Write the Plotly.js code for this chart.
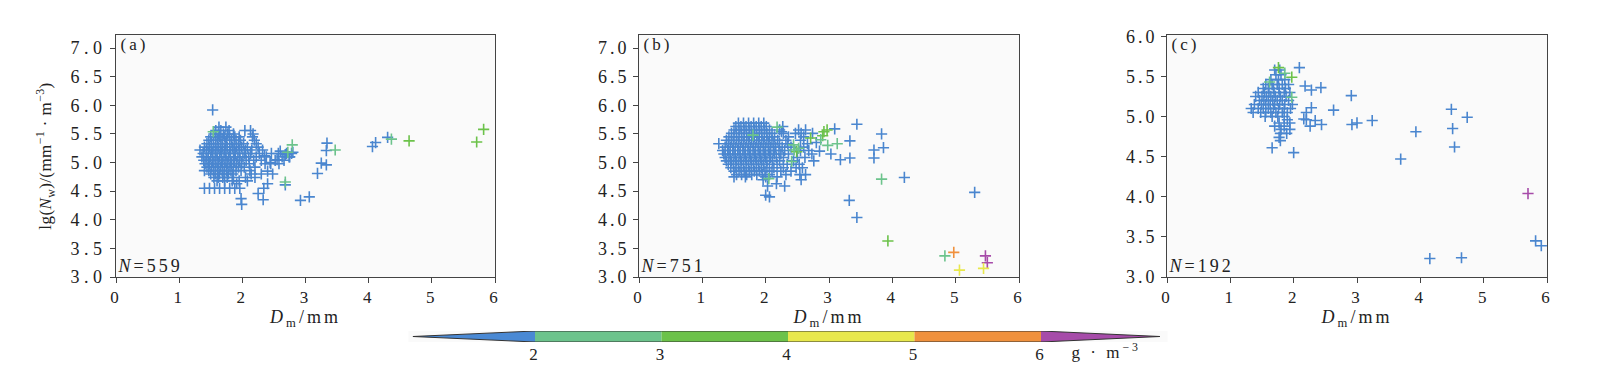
<!DOCTYPE html>
<html><head><meta charset="utf-8">
<script src="https://cdn.plot.ly/plotly-3.0.1.min.js"></script>
<style>
html,body{margin:0;padding:0;background:#fff;}
#chart{width:1600px;height:371px;}
#chart svg text{letter-spacing:3px !important;}
#chart svg .ytick text{letter-spacing:4.5px !important;}
#chart svg .g-ytitle text{letter-spacing:0.4px !important;}
</style></head><body><div id="chart"></div>
<script>
// ---------- Panel (a): LWC < 2 g/m3 (blue) ----------
const aBlueX = [1.63,1.74, 1.58,1.66,1.79,2.04,2.13, 1.55,1.62,1.70,1.77,1.86,2.17,
 1.50,1.58,1.64,1.72,1.80,1.88,1.95,2.16, 1.47,1.54,1.61,1.68,1.75,1.83,1.90,1.97,2.19,
 1.44,1.51,1.58,1.66,1.73,1.80,1.87,1.94,2.02,2.22, 1.40,1.48,1.55,1.62,1.69,1.76,1.84,1.91,1.99,2.08,2.25,
 1.33,1.43,1.51,1.58,1.65,1.72,1.80,1.87,1.95,2.05,2.15,2.32,
 1.38,1.46,1.53,1.60,1.67,1.74,1.81,1.89,1.96,2.04,2.13,2.27,2.46,2.57,2.70,2.78,
 1.36,1.43,1.50,1.57,1.64,1.71,1.78,1.86,1.93,2.01,2.10,2.22,2.38,2.63,2.74,
 1.39,1.46,1.53,1.60,1.67,1.74,1.81,1.88,1.96,2.06,2.18,2.30,2.52,2.66,
 1.41,1.48,1.55,1.62,1.69,1.76,1.83,1.91,1.99,2.11,2.36,2.45,
 1.44,1.51,1.58,1.65,1.72,1.79,1.86,1.94,2.03,2.20, 1.40,1.47,1.54,1.61,1.68,1.75,1.82,1.90,1.98,2.12,
 1.50,1.57,1.64,1.71,1.78,1.85,2.14,2.30, 1.55,1.62,1.69,1.76,1.86,2.05,2.20, 1.60,1.72,1.84,1.95,2.08,
 1.91,2.40, 1.40,1.48,1.56,1.64,1.72,1.80,1.88,1.96,2.34, 2.25, 1.98,2.33, 1.99,
 1.53,2.68,2.92,3.06,3.19,3.25,3.33,3.34,3.33,4.06,4.11,4.30,2.80,2.75,2.55,2.40,2.48,2.60,2.68,2.35,2.44,2.58];
const aBlueY = [5.62,5.62, 5.56,5.56,5.56,5.56,5.56, 5.50,5.50,5.50,5.50,5.50,5.50,
 5.45,5.45,5.45,5.45,5.45,5.45,5.45,5.45, 5.39,5.39,5.39,5.39,5.39,5.39,5.39,5.39,5.39,
 5.33,5.33,5.33,5.33,5.33,5.33,5.33,5.33,5.33,5.33, 5.27,5.27,5.27,5.27,5.27,5.27,5.27,5.27,5.27,5.27,5.27,
 5.22,5.22,5.22,5.22,5.22,5.22,5.22,5.22,5.22,5.22,5.22,5.22,
 5.16,5.16,5.16,5.16,5.16,5.16,5.16,5.16,5.16,5.16,5.16,5.16,5.16,5.16,5.16,5.16,
 5.10,5.10,5.10,5.10,5.10,5.10,5.10,5.10,5.10,5.10,5.10,5.10,5.10,5.10,5.10,
 5.04,5.04,5.04,5.04,5.04,5.04,5.04,5.04,5.04,5.04,5.04,5.04,5.04,5.04,
 4.98,4.98,4.98,4.98,4.98,4.98,4.98,4.98,4.98,4.98,4.98,4.98,
 4.92,4.92,4.92,4.92,4.92,4.92,4.92,4.92,4.92,4.92, 4.86,4.86,4.86,4.86,4.86,4.86,4.86,4.86,4.86,4.86,
 4.80,4.80,4.80,4.80,4.80,4.80,4.80,4.80, 4.74,4.74,4.74,4.74,4.74,4.74,4.74, 4.68,4.68,4.68,4.68,4.68,
 4.63,4.63, 4.55,4.55,4.55,4.55,4.55,4.55,4.55,4.55,4.55, 4.46, 4.37,4.35, 4.27,
 5.92,4.61,4.34,4.40,4.81,4.99,4.96,5.34,5.21,5.28,5.35,5.44,5.18,5.10,5.05,4.85,4.80,5.20,5.14,5.12,5.00,4.98];
// Panel (a): LWC >= 2 g/m3
const aHiX = [2.79,2.68,3.47,4.36,4.64,5.71,5.82,1.54,2.72];
const aHiY = [5.31,4.66,5.22,5.41,5.38,5.36,5.58,5.54,5.18];
const aHiW = [2.5,2.6,2.5,2.6,3.4,3.3,3.5,2.4,2.3];

// ---------- Panel (b) ----------
const bBlueX = [1.57,1.65,1.73,1.81,1.89,1.97,
 1.53,1.61,1.69,1.77,1.85,1.93,2.01,2.27,
 1.50,1.58,1.66,1.74,1.82,1.90,1.98,2.06,2.22,2.52,2.63,
 1.46,1.54,1.62,1.70,1.78,1.86,1.94,2.02,2.10,2.28,2.47,2.56,2.74,
 1.42,1.50,1.58,1.66,1.74,1.82,1.90,1.98,2.06,2.14,2.36,2.60,
 1.38,1.46,1.54,1.62,1.70,1.78,1.86,1.94,2.02,2.10,2.19,2.32,2.55,
 1.26,1.41,1.49,1.57,1.65,1.73,1.81,1.89,1.97,2.05,2.13,2.22,2.35,2.66,
 1.36,1.44,1.52,1.60,1.68,1.76,1.84,1.92,2.00,2.08,2.16,2.26,2.40,2.60,
 1.32,1.40,1.48,1.56,1.64,1.72,1.80,1.88,1.96,2.04,2.12,2.21,2.30,2.55,2.68,
 1.34,1.42,1.50,1.58,1.66,1.74,1.82,1.90,1.98,2.06,2.14,2.24,2.36,2.73,
 1.36,1.44,1.52,1.60,1.68,1.76,1.84,1.92,2.00,2.08,2.17,2.28,2.50,2.62,
 1.38,1.46,1.54,1.62,1.70,1.78,1.86,1.94,2.02,2.11,2.22,2.44,2.76,
 1.41,1.49,1.57,1.65,1.73,1.81,1.89,1.97,2.06,2.18,2.34,2.53,
 1.45,1.53,1.61,1.69,1.77,1.85,1.93,2.02,2.13,2.28,2.48,2.58,
 1.50,1.58,1.66,1.74,1.82,1.90,1.99,2.10,2.24,2.40,
 1.54,1.62,1.70,1.78,1.86,1.95,2.06,2.32,2.54,2.63,
 1.50,1.68,2.00,2.18, 1.96,2.56, 2.17, 2.03,2.30, 2.00, 2.06,
 3.44,3.09,3.83,3.33,3.71,3.86,3.03,3.18,3.33,3.71,4.19,5.30,3.32,3.44,2.80,2.85,2.25];
const bBlueY = [5.69,5.69,5.69,5.69,5.69,5.69,
 5.63,5.63,5.63,5.63,5.63,5.63,5.63,5.63,
 5.57,5.57,5.57,5.57,5.57,5.57,5.57,5.57,5.57,5.57,5.57,
 5.51,5.51,5.51,5.51,5.51,5.51,5.51,5.51,5.51,5.51,5.51,5.51,5.51,
 5.45,5.45,5.45,5.45,5.45,5.45,5.45,5.45,5.45,5.45,5.45,5.45,
 5.39,5.39,5.39,5.39,5.39,5.39,5.39,5.39,5.39,5.39,5.39,5.39,5.39,
 5.33,5.33,5.33,5.33,5.33,5.33,5.33,5.33,5.33,5.33,5.33,5.33,5.33,5.33,
 5.27,5.27,5.27,5.27,5.27,5.27,5.27,5.27,5.27,5.27,5.27,5.27,5.27,5.27,
 5.21,5.21,5.21,5.21,5.21,5.21,5.21,5.21,5.21,5.21,5.21,5.21,5.21,5.21,5.21,
 5.15,5.15,5.15,5.15,5.15,5.15,5.15,5.15,5.15,5.15,5.15,5.15,5.15,5.15,
 5.09,5.09,5.09,5.09,5.09,5.09,5.09,5.09,5.09,5.09,5.09,5.09,5.09,5.09,
 5.03,5.03,5.03,5.03,5.03,5.03,5.03,5.03,5.03,5.03,5.03,5.03,5.03,
 4.97,4.97,4.97,4.97,4.97,4.97,4.97,4.97,4.97,4.97,4.97,4.97,
 4.91,4.91,4.91,4.91,4.91,4.91,4.91,4.91,4.91,4.91,4.91,4.91,
 4.85,4.85,4.85,4.85,4.85,4.85,4.85,4.85,4.85,4.85,
 4.79,4.79,4.79,4.79,4.79,4.79,4.79,4.79,4.79,4.79,
 4.75,4.75,4.75,4.75, 4.70,4.70, 4.63, 4.59,4.59, 4.43, 4.40,
 5.67,5.59,5.50,5.38,5.22,5.26,5.15,5.05,5.08,5.08,4.74,4.48,4.34,4.04,5.35,5.20,5.54];
const bHiX = [2.18,2.92,2.97,2.90,2.87,2.71,2.98,3.13,2.44,2.49,2.45,2.52,2.41,3.83,3.93,4.83,4.97,5.47,5.50,5.06,5.44,1.80,2.05];
const bHiY = [5.62,5.54,5.57,5.47,5.40,5.43,5.30,5.33,5.31,5.19,5.22,5.25,5.02,4.71,3.63,3.37,3.43,3.37,3.25,3.12,3.15,5.48,4.72];
const bHiW = [2.6,3.4,3.5,3.3,2.8,3.4,2.6,2.7,2.6,3.2,2.5,2.7,2.6,2.7,3.2,2.6,5.4,6.3,6.4,4.6,4.5,2.4,2.5];

// ---------- Panel (c) ----------
const cBlueX = [1.70,1.78,2.09, 1.72,1.80, 1.64,1.76,1.86,
 1.56,1.66,1.74,1.82,1.92,2.18, 1.52,1.60,1.68,1.77,1.87,2.28,2.43,
 1.44,1.54,1.61,1.69,1.77,1.85,1.94, 1.40,1.50,1.57,1.64,1.71,1.79,1.88,
 1.46,1.53,1.60,1.67,1.74,1.82,1.92, 1.38,1.49,1.56,1.63,1.70,1.78,1.86,1.98,
 1.33,1.44,1.52,1.60,1.68,1.76,1.85,1.95,2.28,2.63, 1.36,1.48,1.56,1.64,1.72,1.82,1.90,2.20,
 1.55,1.66,1.75,1.85,2.16, 1.90,2.20,2.34, 1.77,1.94,3.00, 1.70,1.85,2.26,2.44,2.92,
 1.80,1.94, 1.79,1.89, 1.77, 1.79, 1.66, 2.00,
 2.91,3.24,3.93,3.69,4.49,4.74,4.51,4.54,5.82,5.91,4.15,4.65];
const cBlueY = [5.58,5.58,5.61, 5.52,5.52, 5.46,5.46,5.46,
 5.40,5.40,5.40,5.40,5.40,5.38, 5.35,5.35,5.35,5.35,5.35,5.33,5.36,
 5.30,5.30,5.30,5.30,5.30,5.30,5.30, 5.25,5.25,5.25,5.25,5.25,5.25,5.25,
 5.20,5.20,5.20,5.20,5.20,5.20,5.20, 5.15,5.15,5.15,5.15,5.15,5.15,5.15,5.15,
 5.10,5.10,5.10,5.10,5.10,5.10,5.10,5.10,5.11,5.08, 5.05,5.05,5.05,5.05,5.05,5.05,5.05,5.05,
 5.00,5.00,5.00,5.00,4.97, 4.96,4.96,4.95, 4.92,4.92,4.92, 4.88,4.88,4.88,4.90,4.90,
 4.84,4.84, 4.79,4.79, 4.74, 4.70, 4.61, 4.55,
 5.26,4.95,4.81,4.47,5.09,4.99,4.85,4.62,3.45,3.39,3.23,3.24];
const cHiX = [1.76,1.86,1.97,1.97,1.62,5.70];
const cHiY = [5.61,5.54,5.49,5.24,5.43,4.04];
const cHiW = [3.4,2.6,3.3,2.6,2.5,6.5];

// ---------- colour bar (LWC, g·m^-3) ----------
const cbBounds = [2,3,4,5,6];
const cbColors = ['#4a89d4','#6cc38c','#6cc24a','#e8e84c','#f0913d','#a64ba9'];
const cbTicks = [2,3,4,5,6];
const panelLabels = ['(a)','(b)','(c)'];
const panelN = [559,751,192];

const blue = '#4a86cf';
const stepScale = [];
cbColors.forEach((c,i)=>{ stepScale.push([i/6,c]); stepScale.push([(i+1)/6,c]); });

function blueTrace(x,y,xa,ya){
  return {type:'scatter',mode:'markers',x:x,y:y,xaxis:xa,yaxis:ya,hoverinfo:'x+y',
    marker:{symbol:'cross-thin',size:8,line:{width:1.6,color:blue},color:blue}};
}
function hiTrace(x,y,w,xa,ya){
  return {type:'scatter',mode:'markers',x:x,y:y,xaxis:xa,yaxis:ya,hoverinfo:'x+y',
    marker:{symbol:'cross-thin',size:8,color:w,cmin:1,cmax:7,colorscale:stepScale,showscale:false,
      line:{width:1.6,color:w,cmin:1,cmax:7,colorscale:stepScale}}};
}

const traces = [
  blueTrace(aBlueX,aBlueY,'x','y'), hiTrace(aHiX,aHiY,aHiW,'x','y'),
  blueTrace(bBlueX,bBlueY,'x2','y2'), hiTrace(bHiX,bHiY,bHiW,'x2','y2'),
  blueTrace(cBlueX,cBlueY,'x3','y3'), hiTrace(cHiX,cHiY,cHiW,'x3','y3')
];
// colour bar segments
for(let i=0;i<cbBounds.length-1;i++){
  const lo=cbBounds[i], hi=cbBounds[i+1];
  traces.push({type:'scatter',mode:'lines',x:[lo,hi,hi,lo,lo],y:[0,0,1,1,0],xaxis:'x4',yaxis:'y4',
    fill:'toself',fillcolor:cbColors[i+1],line:{width:0},hoverinfo:'skip'});
}
const lo0=cbBounds[0], hiN=cbBounds[cbBounds.length-1];
traces.push({type:'scatter',mode:'lines',x:[lo0,1.035,lo0,lo0],y:[0,0.5,1,0],xaxis:'x4',yaxis:'y4',
  fill:'toself',fillcolor:cbColors[0],line:{width:0},hoverinfo:'skip'});
traces.push({type:'scatter',mode:'lines',x:[hiN,6.94,hiN,hiN],y:[0,0.5,1,0],xaxis:'x4',yaxis:'y4',
  fill:'toself',fillcolor:cbColors[5],line:{width:0},hoverinfo:'skip'});
traces.push({type:'scatter',mode:'lines',x:[lo0,1.035,lo0,hiN,6.94,hiN,lo0],y:[0,0.5,1,1,0.5,0,0],xaxis:'x4',yaxis:'y4',
  line:{width:1,color:'#333'},hoverinfo:'skip'});

const W=1600,H=371;
const yTop=35, yBot=277;
const dy=[1-yBot/H, 1-yTop/H];
const xDom=[[116,495],[639,1019],[1167,1547]];
const FAM='Liberation Serif';
const font={family:FAM,size:17,color:'#222'};
function ax(extra){
  return Object.assign({showline:true,mirror:true,linecolor:'#444',linewidth:1,ticks:'outside',ticklen:5,
    tickcolor:'#444',tickwidth:1,showgrid:false,zeroline:false,tickfont:font},extra);
}
const yTickFont={family:FAM,size:18,color:'#222'};
const xTitle={text:'<i>D</i><sub>m</sub>/mm',font:{family:FAM,size:18,color:'#222'},standoff:0};
const layout={
  width:W,height:H,margin:{l:0,r:0,t:0,b:0},paper_bgcolor:'#fff',plot_bgcolor:'#fafafa',
  showlegend:false,font:font,
  xaxis: ax({domain:[xDom[0][0]/W,xDom[0][1]/W],range:[0,6],dtick:1,anchor:'y',title:xTitle}),
  xaxis2:ax({domain:[xDom[1][0]/W,xDom[1][1]/W],range:[0,6],dtick:1,anchor:'y2',title:xTitle}),
  xaxis3:ax({domain:[xDom[2][0]/W,xDom[2][1]/W],range:[0,6],dtick:1,anchor:'y3',title:xTitle}),
  yaxis: ax({domain:dy,range:[3,7.23],tickvals:[3,3.5,4,4.5,5,5.5,6,6.5,7],tickformat:'.1f',anchor:'x',tickfont:yTickFont,
    title:{text:'lg(<i>N</i><sub>w</sub>)/(mm<sup>−1</sup> · m<sup>−3</sup>)',font:{family:FAM,size:17,color:'#222'},standoff:27}}),
  yaxis2:ax({domain:dy,range:[3,7.23],tickvals:[3,3.5,4,4.5,5,5.5,6,6.5,7],tickformat:'.1f',anchor:'x2',tickfont:yTickFont}),
  yaxis3:ax({domain:dy,range:[3,6.016],tickvals:[3,3.5,4,4.5,5,5.5,6],tickformat:'.1f',anchor:'x3',tickfont:yTickFont}),
  xaxis4:{domain:[408.5/W,1167.5/W],range:[1,7],anchor:'y4',showline:false,showgrid:false,zeroline:false,
    tickvals:cbTicks,ticks:'',tickfont:{family:FAM,size:17,color:'#222'},fixedrange:true},
  yaxis4:{domain:[1-342/H,1-331/H],range:[0,1],visible:false,fixedrange:true},
  annotations:[]
};
['x','x2','x3'].forEach((xa,i)=>{
  const ya = ['y','y2','y3'][i];
  layout.annotations.push({xref:xa+' domain',yref:ya+' domain',x:0.018,y:1-10/242,xanchor:'left',yanchor:'middle',
    text:panelLabels[i],showarrow:false,font:{family:FAM,size:17,color:'#222'}});
  layout.annotations.push({xref:xa+' domain',yref:ya+' domain',x:0.018,y:11/242,xanchor:'left',yanchor:'middle',
    text:'<i>N</i>='+panelN[i],showarrow:false,font:{family:FAM,size:18,color:'#222'}});
});
layout.annotations.push({xref:'x4',yref:'paper',x:6.31,y:1-351/H,xanchor:'left',yanchor:'middle',
  text:'g · m<sup>−3</sup>',showarrow:false,font:{family:FAM,size:17,color:'#222'}});

Plotly.newPlot('chart',traces,layout,{displayModeBar:false,staticPlot:true});
</script></body></html>
